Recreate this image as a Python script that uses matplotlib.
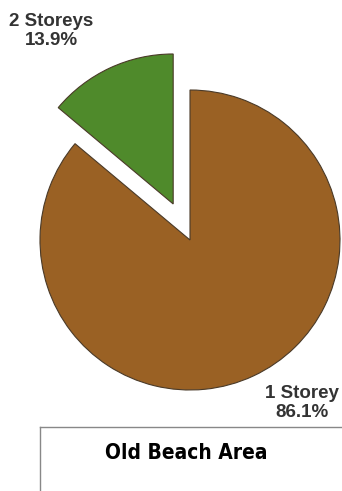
import matplotlib
matplotlib.use("Agg")
import matplotlib.pyplot as plt
from matplotlib.lines import Line2D

labels = ["2 Storeys", "1 Storey"]
values = [13.9, 86.1]
colors = ["#4F8A2B", "#9A6124"]
explode = [0.265, 0.0]
title = "Old Beach Area"

W, H = 342, 491
fig = plt.figure(figsize=(W / 100, H / 100), dpi=100)
fig.patch.set_facecolor("white")

cx, cy, r = 190, 240, 150
ax = fig.add_axes([(cx - r) / W, (H - cy - r) / H, 2 * r / W, 2 * r / H])
ax.pie(values, colors=colors, explode=explode, startangle=90, counterclock=True,
       radius=1, wedgeprops=dict(edgecolor="#4a3a28", linewidth=0.8, clip_on=False))
ax.set_xlim(-1, 1)
ax.set_ylim(-1, 1)
ax.set_aspect("equal")
ax.axis("off")

lab_font = dict(family=["Liberation Sans", "DejaVu Sans"], fontweight="bold",
                fontsize=13.5, color="#333333", ha="center", va="center", linespacing=1.12)
fig.text(51 / W, 1 - 31 / H, f"{labels[0]}\n{values[0]}%", **lab_font)
fig.text(302 / W, 1 - 403 / H, f"{labels[1]}\n{values[1]}%", **lab_font)

# title box
fig.add_artist(Line2D([40 / W, 40 / W], [1 - 427 / H, 0], transform=fig.transFigure,
                      color="#888888", linewidth=1))
fig.add_artist(Line2D([40 / W, 1], [1 - 427 / H, 1 - 427 / H], transform=fig.transFigure,
                      color="#888888", linewidth=1))
fig.text(186 / W, 1 - 453 / H, title, family=["DejaVu Sans"], fontstretch="condensed",
         fontweight="bold", fontsize=15, color="black", ha="center", va="center")

fig.savefig("out.png", dpi=100)
